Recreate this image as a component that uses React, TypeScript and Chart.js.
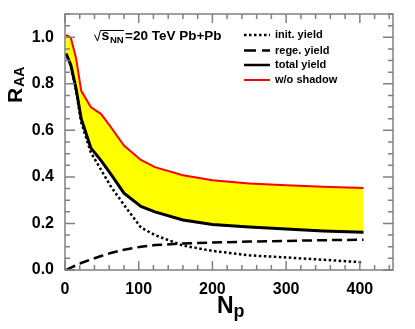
import React, { useEffect, useRef } from 'react';
import { Chart, registerables } from 'chart.js';

Chart.register(...registerables);

// ---- data ----
const NP = [1.5, 8, 15, 22, 35, 49, 62, 80, 103, 122, 160, 200, 250, 300, 350, 405];
const INIT_YIELD = [0.93, 0.875, 0.77, 0.635, 0.505, 0.43, 0.36, 0.28, 0.183, 0.15, 0.105, 0.082, 0.063, 0.054, 0.044, 0.033];
const REGE_YIELD = [0.0, 0.01, 0.02, 0.03, 0.045, 0.06, 0.073, 0.087, 0.1, 0.107, 0.114, 0.118, 0.122, 0.125, 0.128, 0.13];
const TOTAL_YIELD = [0.93, 0.88, 0.78, 0.65, 0.525, 0.47, 0.413, 0.33, 0.273, 0.25, 0.215, 0.196, 0.185, 0.176, 0.168, 0.162];
const WO_SHADOW = [1.01, 0.997, 0.91, 0.77, 0.7, 0.67, 0.615, 0.535, 0.473, 0.442, 0.407, 0.386, 0.372, 0.364, 0.358, 0.352];

const X_TICKS = [0, 100, 200, 300, 400];
const Y_TICKS = [0, 0.2, 0.4, 0.6, 0.8, 1.0];
const X_MINOR = [0, 20, 40, 60, 80, 100, 120, 140, 160, 180, 200, 220, 240, 260, 280, 300, 320, 340, 360, 380, 400, 420, 440];
const Y_MINOR = [0, 0.05, 0.1, 0.15, 0.2, 0.25, 0.3, 0.35, 0.4, 0.45, 0.5, 0.55, 0.6, 0.65, 0.7, 0.75, 0.8, 0.85, 0.9, 0.95, 1.0, 1.05, 1.1];

const LEGEND_LABELS = ['init. yield', 'rege. yield', 'total yield', 'w/o shadow'];

const pts = (ys: number[]) => NP.map((x, i) => ({ x, y: ys[i] }));

const FONT = 'Liberation Sans, Arial, sans-serif';

const framePlugin = {
  id: 'frameTicks',
  afterDraw(chart: any) {
    const { ctx, chartArea: a, scales } = chart;
    const xs = scales.x;
    const ys = scales.y;
    ctx.save();
    ctx.strokeStyle = '#808080';
    ctx.lineWidth = 1.5;
    ctx.strokeRect(a.left, a.top, a.right - a.left, a.bottom - a.top);
    ctx.beginPath();
    X_MINOR.forEach((v) => {
      const px = xs.getPixelForValue(v);
      if (px < a.left - 0.5 || px > a.right + 0.5) return;
      const major = X_TICKS.includes(v);
      const len = major ? 9 : 5;
      ctx.moveTo(px, a.bottom);
      ctx.lineTo(px, a.bottom - len);
      ctx.moveTo(px, a.top);
      ctx.lineTo(px, a.top + len);
    });
    Y_MINOR.forEach((v) => {
      const py = ys.getPixelForValue(v);
      if (py < a.top - 0.5 || py > a.bottom + 0.5) return;
      const major = Y_TICKS.some((t) => Math.abs(t - v) < 1e-9);
      const len = major ? 10 : 5;
      ctx.moveTo(a.left, py);
      ctx.lineTo(a.left + len, py);
      ctx.moveTo(a.right, py);
      ctx.lineTo(a.right - len, py);
    });
    ctx.stroke();
    ctx.restore();
  },
};

const textPlugin = {
  id: 'texts',
  afterDraw(chart: any) {
    const { ctx } = chart;
    ctx.save();
    ctx.fillStyle = '#000';
    ctx.textBaseline = 'alphabetic';
    ctx.textAlign = 'left';

    // Y title: R_AA (rotated)
    ctx.save();
    ctx.translate(21.5, 103);
    ctx.rotate(-Math.PI / 2);
    ctx.font = `bold 21px ${FONT}`;
    ctx.fillText('R', 0, 0);
    const rw = ctx.measureText('R').width;
    ctx.font = `bold 14px ${FONT}`;
    ctx.fillText('AA', rw + 1, 2);
    ctx.restore();

    // X title: N_p
    ctx.font = `bold 23px ${FONT}`;
    ctx.fillText('N', 217, 313);
    const nw = ctx.measureText('N').width;
    ctx.font = `bold 18px ${FONT}`;
    ctx.fillText('p', 217 + nw, 316.5);

    // energy label with sqrt
    ctx.strokeStyle = '#000';
    ctx.lineWidth = 1;
    ctx.beginPath();
    ctx.moveTo(94.5, 34.5);
    ctx.lineTo(97.5, 41);
    ctx.lineTo(100.5, 30.5);
    ctx.lineTo(124, 30.5);
    ctx.stroke();
    ctx.font = `bold 14px ${FONT}`;
    ctx.fillText('s', 101.5, 40);
    ctx.font = `bold 9.5px ${FONT}`;
    ctx.fillText('NN', 110, 42.5);
    ctx.font = `bold 13.5px ${FONT}`;
    ctx.fillText('=20 TeV Pb+Pb', 125, 40);

    // legend
    const rows = [35, 50.5, 65, 80];
    const styles = [
      { color: '#000', width: 2.5, dash: [2.5, 2.5] },
      { color: '#000', width: 2.5, dash: [12, 6] },
      { color: '#000', width: 2.5, dash: [] as number[] },
      { color: '#ff0000', width: 2, dash: [] as number[] },
    ];
    rows.forEach((y, i) => {
      const s = styles[i];
      ctx.save();
      ctx.strokeStyle = s.color;
      ctx.lineWidth = s.width;
      ctx.setLineDash(s.dash);
      ctx.beginPath();
      ctx.moveTo(244, y);
      ctx.lineTo(270, y);
      ctx.stroke();
      ctx.restore();
      ctx.font = `bold 11px ${FONT}`;
      ctx.textBaseline = 'middle';
      ctx.fillText(LEGEND_LABELS[i], 275, y);
      ctx.textBaseline = 'alphabetic';
    });
    ctx.restore();
  },
};

export default function App() {
  const canvasRef = useRef<HTMLCanvasElement | null>(null);

  useEffect(() => {
    document.body.style.margin = '0';
    const canvas = canvasRef.current;
    if (!canvas) return;
    const tickFont = { family: FONT, size: 16, weight: 'bold' as const };
    const chart = new Chart(canvas, {
      type: 'line',
      data: {
        datasets: [
          {
            label: LEGEND_LABELS[2],
            data: pts(TOTAL_YIELD),
            borderColor: '#000',
            borderWidth: 3,
            pointRadius: 0,
            tension: 0,
            fill: false,
          },
          {
            label: LEGEND_LABELS[3],
            data: pts(WO_SHADOW),
            borderColor: '#ff0000',
            borderWidth: 2,
            pointRadius: 0,
            tension: 0,
            fill: '-1',
            backgroundColor: '#ffff00',
          },
          {
            label: LEGEND_LABELS[0],
            data: pts(INIT_YIELD),
            borderColor: '#000',
            borderWidth: 2.5,
            borderDash: [2.5, 2.5],
            pointRadius: 0,
            tension: 0,
            fill: false,
          },
          {
            label: LEGEND_LABELS[1],
            data: pts(REGE_YIELD),
            borderColor: '#000',
            borderWidth: 2.5,
            borderDash: [10, 5],
            pointRadius: 0,
            tension: 0,
            fill: false,
          },
        ],
      },
      options: {
        responsive: false,
        animation: false,
        layout: { padding: { top: 14, right: 22, left: 0, bottom: 0 } },
        plugins: { legend: { display: false }, tooltip: { enabled: false } },
        scales: {
          x: {
            type: 'linear',
            min: 0,
            max: 445,
            grid: { display: false },
            border: { display: false },
            afterBuildTicks: (s: any) => {
              s.ticks = X_TICKS.map((value) => ({ value }));
            },
            afterFit: (s: any) => {
              s.height = 59;
            },
            ticks: {
              padding: 2,
              color: '#000',
              font: tickFont,
              maxRotation: 0,
              autoSkip: false,
              callback: (v: any) => String(v),
            },
          },
          y: {
            type: 'linear',
            min: 0,
            max: 1.1,
            grid: { display: false },
            border: { display: false },
            afterBuildTicks: (s: any) => {
              s.ticks = Y_TICKS.map((value) => ({ value }));
            },
            afterFit: (s: any) => {
              s.width = 65;
            },
            ticks: {
              padding: 3,
              color: '#000',
              font: tickFont,
              autoSkip: false,
              callback: (v: any) => Number(v).toFixed(1),
            },
          },
        },
      },
      plugins: [framePlugin, textPlugin],
    });
    return () => chart.destroy();
  }, []);

  return (
    <div style={{ position: 'absolute', left: 0, top: 0, width: 415, height: 329, background: '#fff' }}>
      <canvas ref={canvasRef} width={415} height={329} />
    </div>
  );
}
